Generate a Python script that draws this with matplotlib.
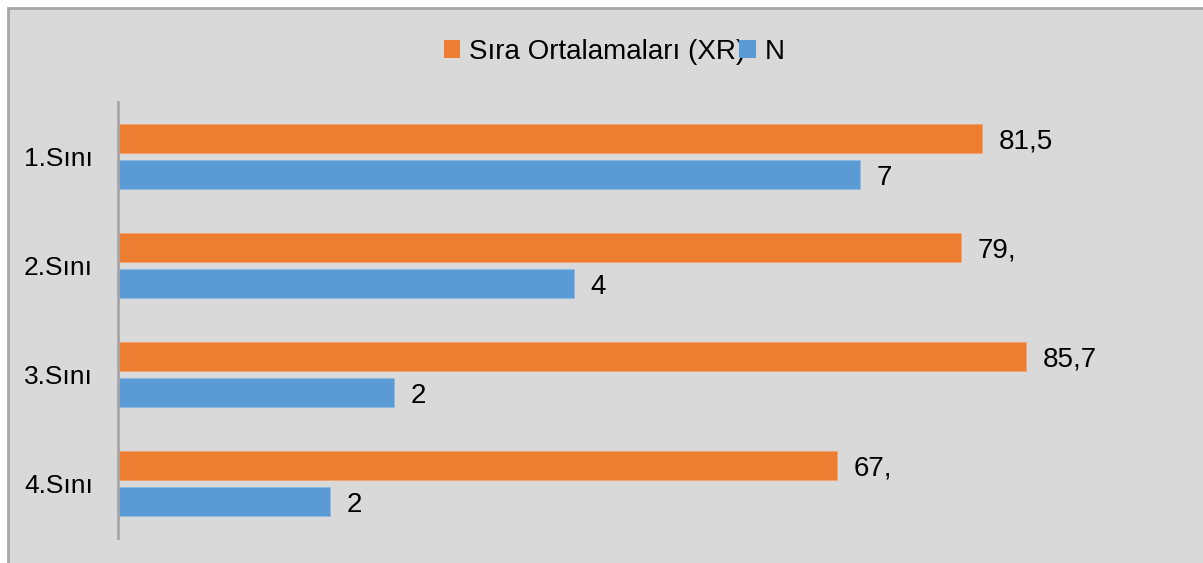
import matplotlib
matplotlib.use("Agg")
import matplotlib.pyplot as plt
from matplotlib.patches import Patch, Rectangle

categories = ["1.Sını", "2.Sını", "3.Sını", "4.Sını"]
sira_values = [81.5, 79.5, 85.7, 67.8]
sira_labels = ["81,5", "79,", "85,7", "67,"]
n_values = [70, 43, 26, 20]
n_labels = ["7", "4", "2", "2"]
series_names = ["Sıra Ortalamaları (XR)", "N"]

ORANGE = "#ED7D31"
BLUE = "#5B9BD5"
BG = "#D9D9D9"
FS = 20

plt.rcParams['font.family'] = ['Liberation Sans', 'DejaVu Sans']

W, H = 1203, 563
fig = plt.figure(figsize=(W / 100, H / 100), dpi=100)
fig.patch.set_facecolor("white")

# chart area background with border (top and left edges visible)
bg = fig.add_axes([0, 0, 1, 1], zorder=-5)
bg.set_xlim(0, W)
bg.set_ylim(H, 0)
bg.axis("off")
bg.add_patch(Rectangle((8, 8), W + 20, H + 20, facecolor=BG, edgecolor="#A6A6A6", linewidth=2.0))

ax = fig.add_axes([118 / W, 1 - 538 / H, (1178 - 118) / W, (538 - 102) / H], zorder=1)
ax.set_facecolor("none")

y = list(range(len(categories)))
off = 0.167
h = 0.265
ax.barh([v - off for v in y], sira_values, height=h, color=ORANGE, edgecolor="#F4A46E", linewidth=0.6)
ax.barh([v + off for v in y], n_values, height=h, color=BLUE, edgecolor="#8CB9E3", linewidth=0.6)

for i in y:
    ax.annotate(sira_labels[i], (sira_values[i], i - off), xytext=(12, -2.5), textcoords="offset points",
                va="center", ha="left", fontsize=FS, color="black")
    ax.annotate(n_labels[i], (n_values[i], i + off), xytext=(12, -2.5), textcoords="offset points",
                va="center", ha="left", fontsize=FS, color="black")

ax.set_xlim(0, 100)
ax.set_ylim(3.5, -0.5)
ax.set_yticks(y)
ax.set_yticklabels(categories, fontsize=19)
ax.tick_params(axis="y", length=0, pad=18)
ax.set_xticks([])
for s in ["top", "right", "bottom"]:
    ax.spines[s].set_visible(False)
ax.spines["left"].set_color("#A6A6A6")
ax.spines["left"].set_linewidth(2)

handles = [Patch(facecolor=ORANGE, edgecolor="none"), Patch(facecolor=BLUE, edgecolor="none")]
fig.legend(handles, series_names, loc="center", bbox_to_anchor=(614 / W, 1 - 52 / H), ncol=2,
           frameon=False, fontsize=FS, handlelength=0.6, handleheight=0.6, handletextpad=0.3,
           columnspacing=-0.2, borderpad=0)

fig.savefig("out.png", dpi=100, facecolor=fig.get_facecolor())
